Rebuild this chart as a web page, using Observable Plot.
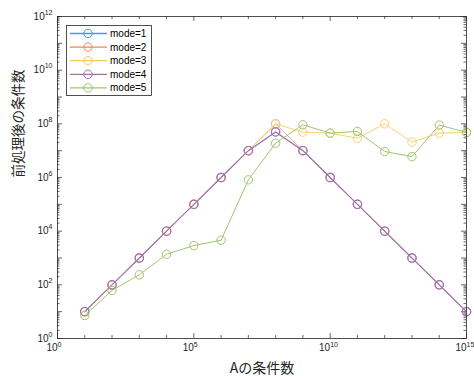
<!DOCTYPE html>
<html>
<head>
<meta charset="utf-8">
<script src="https://cdn.jsdelivr.net/npm/d3@7"></script>
<script src="https://cdn.jsdelivr.net/npm/@observablehq/plot@0.6"></script>
<style>
  html, body { margin: 0; padding: 0; background: #fff; }
  #wrap { position: relative; width: 474px; height: 376px; overflow: hidden; font-family: "Liberation Sans", Arial, "Noto Sans CJK JP", sans-serif; }
  #legend { position: absolute; }
</style>
</head>
<body>
<div id="wrap"></div>
<script>
// ---- data ----
const xValues = [1e1, 1e2, 1e3, 1e4, 1e5, 1e6, 1e7, 1e8, 1e9, 1e10, 1e11, 1e12, 1e13, 1e14, 1e15];
const mode1 = [10, 100, 1e3, 1e4, 1e5, 1e6, 1e7, 5e7, 1e7, 1e6, 1e5, 1e4, 1e3, 100, 10];
const mode2 = [10, 100, 1e3, 1e4, 1e5, 1e6, 1e7, 1e8, 1e7, 1e6, 1e5, 1e4, 1e3, 100, 10];
const mode3 = [10, 100, 1e3, 1e4, 1e5, 1e6, 1e7, 1e8, 4.9e7, 4.5e7, 2.9e7, 1e8, 2.1e7, 4.5e7, 4.8e7];
const mode4 = [10, 100, 1e3, 1e4, 1e5, 1e6, 1e7, 5e7, 1e7, 1e6, 1e5, 1e4, 1e3, 100, 10];
const mode5 = [7.2, 62, 236, 1380, 2900, 4600, 8.2e5, 1.9e7, 9.2e7, 4.5e7, 5.2e7, 9.3e6, 6e6, 9e7, 4.8e7];
const seriesNames = ["mode=1", "mode=2", "mode=3", "mode=4", "mode=5"];
const seriesValues = [mode1, mode2, mode3, mode4, mode5];
const seriesColors = ["#4d9cd1", "#e4875e", "#f2c95b", "#a56db0", "#a0c56e"];

const xTickExps = [0, 5, 10, 15];
const yTickExps = [0, 2, 4, 6, 8, 10, 12];
const xLabel = "Aの条件数";
const yLabel = "前処理後の条件数";

// ---- layout ----
const W = 474, H = 376;
const mL = 57, mR = 8, mT = 16, mB = 38;
const pw = W - mL - mR, ph = H - mT - mB;
const axisColor = "#262626";
const seriesWidths = [0.6, 0.7, 0.85, 1.15, 1];

// ticks (axis furniture)
const xMajor = xTickExps.map(e => Math.pow(10, e));
const xMinor = d3.range(1, 15).filter(e => !xTickExps.includes(e)).map(e => Math.pow(10, e));
const yMajor = d3.range(0, 13).map(e => Math.pow(10, e));
const yMinor = [];
for (let e = 0; e < 12; e++) for (let m = 2; m <= 9; m++) yMinor.push(m * Math.pow(10, e));

const marks = [];
const tk = {stroke: axisColor, strokeWidth: 0.7};
marks.push(Plot.tickY(yMajor, {y: d => d, insetRight: pw - 5, ...tk}));
marks.push(Plot.tickY(yMajor, {y: d => d, insetLeft: pw - 5, ...tk}));
marks.push(Plot.tickY(yMinor, {y: d => d, insetRight: pw - 2.5, ...tk}));
marks.push(Plot.tickY(yMinor, {y: d => d, insetLeft: pw - 2.5, ...tk}));
marks.push(Plot.tickX(xMajor, {x: d => d, insetTop: ph - 5, ...tk}));
marks.push(Plot.tickX(xMajor, {x: d => d, insetBottom: ph - 5, ...tk}));
marks.push(Plot.tickX(xMinor, {x: d => d, insetTop: ph - 3, ...tk}));
marks.push(Plot.tickX(xMinor, {x: d => d, insetBottom: ph - 3, ...tk}));

// series
seriesValues.forEach((vals, i) => {
  const data = xValues.map((x, j) => ({x, y: vals[j]}));
  marks.push(Plot.line(data, {x: "x", y: "y", stroke: seriesColors[i], strokeWidth: seriesWidths[i]}));
  marks.push(Plot.dot(data, {x: "x", y: "y", r: 4.2, stroke: seriesColors[i], strokeWidth: seriesWidths[i], fill: "none"}));
});

marks.push(Plot.frame({stroke: axisColor, strokeWidth: 0.8}));

// tick labels
const tf = {fill: axisColor, fontFamily: "Liberation Sans, Arial, sans-serif"};
marks.push(Plot.text(xTickExps, {x: e => Math.pow(10, e), frameAnchor: "bottom", text: () => "10", textAnchor: "end", dy: 12, fontSize: 10, ...tf}));
marks.push(Plot.text(xTickExps, {x: e => Math.pow(10, e), frameAnchor: "bottom", text: e => String(e), textAnchor: "start", dy: 8, fontSize: 7, ...tf}));
marks.push(Plot.text(yTickExps, {y: e => Math.pow(10, e), frameAnchor: "left", text: () => "10", textAnchor: "end", ...tf, fontSize: 10}));
marks.push(Plot.text(yTickExps, {y: e => Math.pow(10, e), frameAnchor: "left", text: e => String(e), textAnchor: "end", dx: -5, dy: -4, fontSize: 7, ...tf}));

// axis labels
marks.push(Plot.text([xLabel], {text: d => d, frameAnchor: "bottom", dy: 34, fontSize: 14, fill: axisColor, fontFamily: "Noto Sans CJK JP, sans-serif"}));
marks.push(Plot.text([yLabel], {text: d => d, frameAnchor: "left", dx: -39, rotate: -90, fontSize: 13.5, fill: axisColor, fontFamily: "Noto Sans CJK JP, sans-serif"}));

const chart = Plot.plot({
  width: W, height: H,
  marginLeft: mL, marginRight: mR, marginTop: mT, marginBottom: mB,
  x: {type: "log", domain: [1, 1e15], axis: null},
  y: {type: "log", domain: [1, 1e12], axis: null},
  style: {background: "#fff", overflow: "visible"},
  marks
});
document.getElementById("wrap").appendChild(chart);

// shift y "10" labels left by the width of their exponent
(function () {
  const groups = chart.querySelectorAll("g[aria-label='text']");
  const g = groups[2];
  g.querySelectorAll("text").forEach((t, i) => {
    const len = String(yTickExps[i]).length;
    const dx = -5 - 3.9 * len;
    const tr = t.getAttribute("transform") || "";
    t.setAttribute("transform", tr + ` translate(${dx},0)`);
  });
})();

// legend
const lg = d3.select("#wrap").append("svg").attr("id", "legend")
  .attr("width", 86).attr("height", 71)
  .style("left", "66px").style("top", "25px");
lg.append("rect").attr("x", 0.5).attr("y", 0.5).attr("width", 85).attr("height", 70)
  .attr("fill", "#fff").attr("stroke", axisColor).attr("stroke-width", 0.8);
seriesNames.forEach((name, i) => {
  const cy = 8.5 + i * 13.6;
  lg.append("line").attr("x1", 4).attr("x2", 41).attr("y1", cy).attr("y2", cy)
    .attr("stroke", seriesColors[i]).attr("stroke-width", 1.3);
  lg.append("circle").attr("cx", 22).attr("cy", cy).attr("r", 4.2)
    .attr("fill", "none").attr("stroke", seriesColors[i]).attr("stroke-width", 1);
  lg.append("text").attr("x", 44).attr("y", cy).attr("dy", "0.35em")
    .attr("font-size", 10).attr("fill", "#000").attr("font-family", "Liberation Sans, Arial, sans-serif")
    .text(name);
});
</script>
</body>
</html>
